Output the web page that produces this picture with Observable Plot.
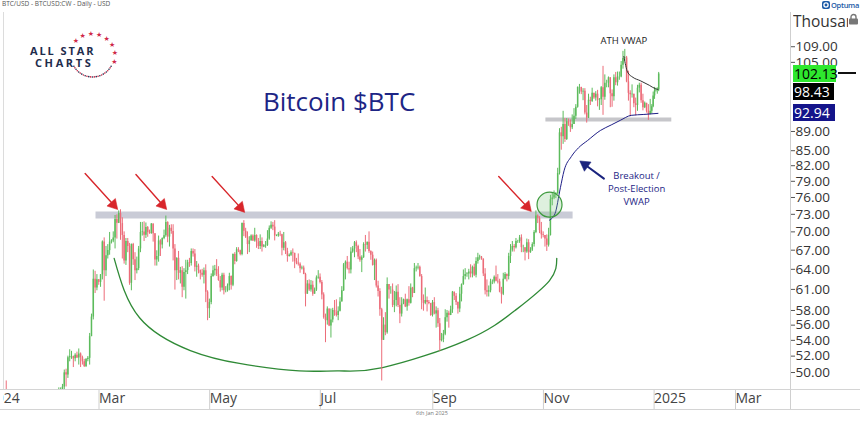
<!DOCTYPE html>
<html><head><meta charset="utf-8">
<script src="https://cdn.jsdelivr.net/npm/d3@7"></script>
<script src="https://cdn.jsdelivr.net/npm/@observablehq/plot@0.6"></script>
<style>
body{margin:0;background:#fff;font-family:"Open Sans",sans-serif}
#wrap{position:relative;width:860px;height:423px;overflow:hidden;background:#fff}
.ov{position:absolute;white-space:nowrap;line-height:1}
</style></head><body><div id="wrap"></div>
<script>
// ---------- DATA (thousands of USD, daily from 2024-01-01 to 2025-01-06) ----------
const startDate = "2024-01-01";
const firstOpen = 42.3;
const close = [
44.2,44.97,42.85,44.2,44.16,43.97,43.93,46.97,46.12,46.63,46.34,42.89,42.84,41.8,42.51,43.15,42.74,41.26,41.62,41.66,41.55,39.5,39.84,40.08,39.93,41.82,42.12,42.03,43.3,42.94,42.58,
43.08,43.2,43.0,42.58,42.66,43.08,44.32,45.3,47.15,47.77,48.29,49.96,49.7,51.8,51.94,51.96,51.66,52.12,51.78,52.26,51.84,51.3,50.73,51.57,51.73,54.48,57.09,62.5,61.2,
62.44,62.03,63.17,68.33,63.8,66.11,66.93,68.3,68.5,69.0,72.1,71.45,73.14,71.4,69.4,65.3,68.4,67.6,61.9,67.9,65.5,63.8,64.1,67.2,69.9,69.99,69.45,70.74,69.9,69.7,71.33,
69.7,65.45,65.98,68.5,67.84,68.9,69.36,71.6,69.14,70.6,70.06,67.2,63.8,65.7,63.4,63.8,61.3,63.5,63.8,64.99,64.9,66.8,66.4,64.3,64.5,63.8,63.4,63.1,63.8,60.6,
58.25,59.1,62.9,63.8,64.0,63.2,62.3,61.2,63.1,60.8,60.8,61.5,62.9,61.6,66.3,65.2,67.05,66.9,66.3,71.4,70.1,69.1,67.9,68.5,69.3,68.5,69.4,68.3,67.6,68.4,67.5,
67.7,67.75,68.8,70.6,71.1,70.8,69.3,69.3,69.6,69.5,67.3,68.2,66.8,66.0,66.2,66.6,66.5,65.2,64.96,64.8,64.1,64.2,63.2,60.3,61.8,60.9,61.6,60.3,60.9,62.7,
62.8,62.0,60.2,57.0,56.6,58.2,55.9,56.7,58.0,57.7,57.3,57.9,59.2,60.8,64.7,65.1,64.1,63.9,66.7,67.2,68.2,67.6,65.9,65.4,65.8,67.9,67.8,68.3,66.8,66.2,64.6,
65.4,61.5,60.7,58.1,54.0,56.0,55.0,61.7,60.9,60.9,58.7,59.4,60.6,58.7,57.5,58.9,59.5,58.5,59.5,59.0,61.2,60.4,64.1,64.2,64.3,62.9,59.4,59.0,59.4,59.1,58.97,
57.3,59.1,57.5,57.97,56.2,53.96,54.1,54.8,57.0,57.6,57.3,58.1,60.6,60.0,59.1,58.2,60.3,61.7,62.9,63.2,63.3,63.6,63.3,64.3,63.1,65.2,65.8,65.9,65.6,63.3,
60.8,60.6,60.8,62.1,62.1,62.8,62.2,62.1,60.6,60.3,62.5,63.2,62.9,66.0,67.0,67.6,67.4,68.4,68.4,69.0,67.4,67.4,66.7,68.2,66.6,67.0,67.9,69.9,72.7,72.3,70.2,
69.5,69.4,68.8,67.8,69.4,75.6,75.9,76.5,76.7,80.5,88.7,87.9,90.5,87.3,91.1,90.6,89.8,90.5,92.3,94.3,98.9,98.9,97.8,98.0,93.0,91.9,95.9,95.6,97.5,96.4,
97.3,95.9,96.0,98.8,96.6,99.9,99.9,101.2,97.4,96.7,101.2,100.0,101.4,101.4,104.3,106.0,106.1,100.2,97.5,97.2,97.3,95.1,94.7,98.7,99.4,95.8,94.2,95.2,93.4,92.7,93.4,
94.4,96.9,98.1,98.2,98.3,102.13];
const high = [
44.2,45.9,45.5,44.8,44.3,44.2,44.5,47.2,47.9,47.7,49.0,46.5,43.3,43.1,43.3,43.5,43.2,42.9,42.1,41.9,41.8,41.7,40.1,40.5,40.3,42.2,42.2,42.8,43.3,43.8,43.7,
43.3,43.4,43.4,43.1,43.5,43.4,44.4,45.6,48.2,48.2,48.6,50.3,50.4,52.0,52.8,52.6,52.0,52.3,52.5,52.9,52.4,52.0,51.6,51.7,51.95,54.9,57.5,63.9,63.7,
63.2,62.4,63.2,68.5,69.0,67.6,67.9,69.9,68.7,70.0,72.8,72.9,73.6,73.8,72.4,70.0,68.9,68.9,68.1,68.0,68.1,66.6,65.9,67.6,71.6,71.6,71.7,71.5,70.9,70.3,71.4,
71.3,69.7,66.9,69.3,68.7,69.0,70.3,72.7,71.7,71.1,71.2,71.2,67.9,65.8,66.8,64.3,64.4,64.1,65.4,65.4,65.7,67.2,67.2,67.1,65.2,64.8,63.9,64.0,64.2,64.7,
60.8,59.6,63.3,64.5,64.6,65.5,64.4,62.9,63.4,63.4,61.4,61.8,63.4,63.0,66.4,66.6,67.4,67.4,67.0,71.5,71.9,70.6,70.0,69.2,69.5,69.5,70.6,69.5,68.9,69.5,69.0,
67.9,68.4,70.2,71.0,71.7,71.6,71.9,69.5,69.9,70.1,69.6,69.9,68.4,67.3,66.4,66.9,67.2,66.1,65.7,66.4,65.0,64.5,64.5,63.4,62.3,62.4,62.3,62.2,61.2,63.0,
63.8,63.3,62.3,60.5,57.5,58.5,58.2,58.2,58.3,59.4,59.5,58.5,59.8,61.4,64.9,65.3,66.0,65.1,67.4,67.6,68.4,68.5,67.8,67.1,66.1,68.2,69.4,68.3,70.0,66.9,66.7,
65.6,65.6,62.2,61.1,58.3,57.0,57.7,62.7,61.7,61.4,61.8,60.7,61.5,61.7,59.8,59.8,59.6,60.3,59.6,61.4,61.8,61.3,64.9,64.5,64.9,64.5,63.2,60.2,61.2,59.9,59.4,
59.0,59.4,59.8,58.5,58.3,56.9,54.9,55.3,58.1,58.0,57.9,58.6,60.7,60.6,60.4,59.2,61.3,61.8,63.9,64.1,63.5,64.0,64.7,64.5,64.8,65.8,66.5,66.2,66.0,65.6,
64.1,62.4,61.5,62.5,62.4,63.0,64.5,63.2,62.5,61.3,63.4,63.5,63.3,66.5,67.9,68.4,67.9,68.9,68.6,69.4,69.5,67.8,67.4,68.8,68.7,67.4,68.2,70.2,73.6,72.9,72.6,
71.6,70.0,69.4,69.5,70.6,76.4,76.9,77.2,76.9,81.5,89.6,89.9,93.4,91.8,91.8,91.7,91.5,92.6,94.0,94.9,99.0,99.6,98.9,98.6,98.6,94.7,97.3,96.6,98.7,97.5,
97.9,98.2,96.3,99.1,104.0,101.9,100.6,101.4,101.2,98.3,101.9,102.5,102.6,102.6,105.2,107.8,108.3,106.5,102.8,98.1,99.5,97.3,96.4,99.4,99.9,99.9,97.3,95.5,95.2,94.9,96.1,
94.9,97.8,98.9,98.7,98.8,102.5];
const low = [
42.2,44.2,40.8,42.6,42.5,43.4,43.6,43.2,45.2,44.3,45.6,41.5,42.4,41.7,41.7,42.1,42.2,40.7,40.3,41.5,41.5,39.4,38.5,39.5,39.5,39.8,41.7,41.6,41.8,42.7,42.3,
41.9,42.6,42.9,42.5,42.3,42.6,42.8,44.3,45.3,46.8,47.6,47.7,48.3,49.3,51.3,51.6,50.6,51.3,51.7,50.9,50.6,50.9,50.6,50.6,51.3,50.9,54.5,56.7,60.4,
60.8,61.6,61.3,62.4,59.3,62.9,65.6,66.2,68.0,68.2,67.2,68.8,71.4,68.6,65.6,64.8,64.6,66.6,61.6,60.8,64.6,62.3,63.3,63.8,66.6,69.3,68.4,68.9,69.1,69.6,69.6,
68.3,64.5,64.5,65.1,66.0,67.2,68.7,69.1,68.2,67.5,69.6,65.3,60.9,62.3,62.4,61.8,59.8,60.8,59.6,63.2,64.3,64.5,65.9,63.6,62.8,63.3,62.4,62.8,61.8,59.1,
56.6,56.9,58.8,62.8,63.0,62.9,62.2,60.6,60.8,60.2,60.5,60.6,60.8,60.9,61.4,64.7,65.1,66.6,66.1,66.1,69.2,68.9,66.3,66.6,68.5,68.4,68.3,67.3,67.1,67.1,66.7,
67.4,67.3,67.6,68.6,70.4,70.2,68.5,69.2,69.1,69.2,66.1,66.9,66.3,65.1,65.9,66.0,65.1,64.1,64.7,64.5,63.4,63.9,63.2,58.5,60.3,60.7,60.6,60.0,60.4,60.7,
62.5,61.8,59.5,56.8,53.7,56.0,55.8,54.3,56.3,57.2,57.1,56.6,57.8,59.3,60.7,62.4,63.9,63.3,63.3,66.5,65.8,66.6,65.5,65.1,63.5,65.7,66.7,67.1,66.5,65.4,64.5,
62.3,61.2,59.9,57.2,49.0,54.0,54.6,54.8,59.6,60.3,58.4,57.7,58.5,58.4,56.2,57.1,58.8,58.4,57.9,58.6,58.9,59.8,60.4,63.6,63.9,62.8,58.1,57.9,58.8,57.8,58.8,
57.2,57.1,57.4,55.6,55.7,52.6,53.8,53.7,54.6,56.4,55.6,57.3,57.6,59.4,58.7,57.5,57.7,59.2,61.6,62.4,62.8,62.4,62.7,62.7,62.9,62.7,64.8,65.4,65.4,62.9,
60.2,59.9,59.9,60.5,61.7,61.8,62.1,61.8,60.5,58.9,60.1,62.4,62.1,62.4,64.9,66.7,66.7,67.2,68.1,68.1,66.6,66.6,65.3,66.5,65.5,66.5,66.8,67.5,69.7,71.4,69.7,
68.8,69.0,67.5,66.8,67.5,69.3,74.5,75.6,75.8,76.5,80.2,85.1,86.3,86.7,87.1,90.1,88.8,89.4,90.5,91.6,94.1,97.3,97.2,95.8,92.6,90.8,91.8,94.7,95.4,96.1,
95.7,94.4,93.6,94.7,92.5,95.9,98.8,98.8,94.2,94.3,95.7,99.3,99.2,100.6,101.2,103.3,105.3,100.0,95.7,92.2,96.4,94.2,92.4,93.4,97.6,95.2,93.5,94.0,93.0,91.4,92.6,
92.8,94.2,96.1,97.8,97.3,97.9];

// anchored VWAPs
const postElectionDates = ["2024-11-06","2024-11-09","2024-11-12","2024-11-14","2024-11-18","2024-11-22","2024-11-27","2024-12-04","2024-12-10","2024-12-15","2024-12-21","2024-12-28","2025-01-06"];
const postElectionVwap  = [72.0,73.1,77.8,81.0,83.8,85.6,87.1,89.2,90.4,91.4,92.5,92.7,92.94];
const athDates = ["2024-12-17","2024-12-18","2024-12-19","2024-12-22","2024-12-26","2024-12-31","2025-01-04","2025-01-06"];
const athVwap  = [106.5,104.2,102.6,101.3,100.5,99.4,98.6,98.43];

// right-axis ticks and last-value labels
const yTicks = [50,52,54,56,58,61,64,67,70,73,76,79,82,85,89,105,109];
const lastPrice = 102.13, athVwapLast = 98.43, postVwapLast = 92.94;

// x-axis ticks
const xTickDates  = ["2024-01-01","2024-03-01","2024-05-01","2024-07-01","2024-09-01","2024-11-01","2025-01-01","2025-03-01"];
const xTickLabels = ["2024","Mar","May","Jul","Sep","Nov","2025","Mar"];

// annotations (data coordinates)
const resistance = {level: 72.9, from: "2024-03-01", to: "2024-11-19"};
const support    = {level: 91.6, from: "2024-11-04", to: "2025-01-16"};
const arcDates  = ["2024-03-11","2024-03-25","2024-04-22","2024-05-19","2024-06-21","2024-07-13","2024-08-06","2024-09-21","2024-10-18","2024-11-06","2024-11-10"];
const arcPrices = [65.7,57.0,52.7,51.1,50.2,50.2,50.6,54.0,58.0,62.3,65.7];
const arrowFromDates  = ["2024-02-24","2024-03-23","2024-05-04","2024-10-09"];
const arrowFromPrices = [80.5,80.3,79.9,79.9];
const arrowToDates    = ["2024-03-12","2024-04-08","2024-05-21","2024-10-26"];
const arrowToPrices   = [74.2,74.2,73.7,73.85];
const breakout = {date: "2024-11-06", price: 74.7};
const blueArrow = {fromDate: "2024-12-06", fromPrice: 79.5, toDate: "2024-11-24", toPrice: 82.6};

// ---------- BUILD ----------
const DAY = 864e5;
const t0 = Date.parse(startDate + "T00:00:00Z");
const D = s => new Date(s + "T00:00:00Z");
const candles = close.map((c, i) => {
  const o = i === 0 ? firstOpen : close[i - 1];
  return {date: new Date(t0 + i * DAY + DAY / 2), open: o, close: c,
          high: Math.max(high[i], o, c), low: Math.min(low[i], o, c)};
});
const up = candles.filter(d => d.close >= d.open);
const down = candles.filter(d => d.close < d.open);
const GREEN = "#5cbb5c", RED = "#ec6c79";

const postLine = postElectionDates.map((d, i) => ({date: D(d), v: postElectionVwap[i]}));
const athLine = athDates.map((d, i) => ({date: D(d), v: athVwap[i]}));
const arc = arcDates.map((d, i) => ({date: D(d), v: arcPrices[i]}));
const arrows = arrowFromDates.map((d, i) => ({x1: D(d), y1: arrowFromPrices[i], x2: D(arrowToDates[i]), y2: arrowToPrices[i]}));
const xTicks = xTickDates.map(D);
const labelOf = new Map(xTicks.map((d, i) => [+d, xTickLabels[i]]));

const xAxisOpts = {tickFormat: d => labelOf.get(+d), tickSize: 20, tickPadding: -16, textAnchor: "start", fontSize: 14, stroke: "#cfcfcf", fill: "#444", label: null};

const chart = Plot.plot({
  width: 860, height: 423,
  marginLeft: 3, marginRight: 70, marginTop: 12, marginBottom: 34,
  style: {fontFamily: "'Open Sans', sans-serif", background: "transparent"},
  x: {type: "utc",
      domain: [D("2024-01-10"), D("2025-01-01"), D("2025-03-01"), D("2025-04-12")],
      range: [3, 650.6, 732, 790]},
  y: {type: "log", domain: [48.01, 118.3]},
  marks: [
    Plot.ruleY([resistance], {y: "level", x1: d => D(d.from), x2: d => D(d.to), stroke: "#c9cbd6", strokeWidth: 7}),
    Plot.ruleY([support], {y: "level", x1: d => D(d.from), x2: d => D(d.to), stroke: "#c6c6ca", strokeWidth: 4}),
    Plot.line(arc, {x: "date", y: "v", curve: "natural", stroke: "#2f8a36", strokeWidth: 1.3}),
    Plot.ruleX(up, {x: "date", y1: "low", y2: "high", stroke: GREEN, strokeWidth: 1, clip: true}),
    Plot.ruleX(down, {x: "date", y1: "low", y2: "high", stroke: RED, strokeWidth: 1, clip: true}),
    Plot.ruleX(up, {x: "date", y1: "open", y2: "close", stroke: GREEN, strokeWidth: 1.5, clip: true}),
    Plot.ruleX(down, {x: "date", y1: "open", y2: "close", stroke: RED, strokeWidth: 1.5, clip: true}),
    Plot.line(postLine, {x: "date", y: "v", curve: "monotone-x", stroke: "#1e1e86", strokeWidth: 1}),
    Plot.line(athLine, {x: "date", y: "v", curve: "monotone-x", stroke: "#333", strokeWidth: 1}),
    Plot.dot([breakout], {x: d => D(d.date), y: "price", r: 12.5, stroke: "#3d9a3d", strokeWidth: 1.2, fill: "#7cc47c", fillOpacity: 0.25}),
    Plot.arrow(arrows, {x1: "x1", y1: "y1", x2: "x2", y2: "y2", stroke: "#d8262b", strokeWidth: 1.4, headLength: 0, insetEnd: 4}),
    Plot.dot(arrows, {x: "x2", y: "y2", symbol: "triangle", r: 4.2, rotate: 138, dx: -2.6, dy: -2.8, fill: "#d8262b", stroke: "#d8262b", strokeWidth: 0.5}),
    Plot.arrow([blueArrow], {x1: d => D(d.fromDate), y1: "fromPrice", x2: d => D(d.toDate), y2: "toPrice", stroke: "#1a237e", strokeWidth: 2, headLength: 0, insetEnd: 4}),
    Plot.dot([blueArrow], {x: d => D(d.toDate), y: "toPrice", symbol: "triangle", r: 4.2, rotate: -54, dx: 2.9, dy: 2.1, fill: "#1a237e", stroke: "#1a237e", strokeWidth: 0.5}),
    Plot.text(["Bitcoin $BTC"], {x: () => D("2024-07-13"), y: () => 95.4, text: d => d, fontSize: 26, fill: "#1d2585"}),
    Plot.text(["ATH VWAP"], {x: () => D("2024-12-17"), y: () => 110.6, text: d => d, fontSize: 9.5, fill: "#222"}),
    Plot.text(["Breakout /\nPost-Election\nVWAP"], {x: () => D("2024-12-24"), y: () => 77.8, text: d => d, fontSize: 9.5, lineHeight: 1.4, fill: "#1d2585"}),
    Plot.axisY({anchor: "right", ticks: yTicks, tickFormat: d => d.toFixed(2), tickSize: 4, tickPadding: 1, fontSize: 13.5, stroke: "#555", fill: "#333", label: null}),
    Plot.axisX({...xAxisOpts, ticks: xTicks.slice(0, 1), dx: 0.6}),
    Plot.axisX({...xAxisOpts, ticks: xTicks.slice(1), dx: 3})
  ]
});
chart.style.position = "absolute"; chart.style.left = "0"; chart.style.top = "0";
const wrap = document.getElementById("wrap");

function line(l, t, w, h, c) { const e = document.createElement("div"); e.className = "ov"; Object.assign(e.style, {left: l + "px", top: t + "px", width: w + "px", height: h + "px", background: c}); wrap.appendChild(e); return e; }
line(3, 12, 1, 377, "#dcdcdc");
line(790, 12, 1, 397, "#cfcfcf");
wrap.appendChild(chart);
// the axis band clips the left edge of the first date label
line(0, 390, 3.3, 19, "#fff");
line(0, 389, 860, 1, "#d4d4d4");
line(0, 409, 860, 1, "#d4d4d4");

function html(s) { const e = document.createElement("div"); e.className = "ov"; e.innerHTML = s; wrap.appendChild(e); return e; }
const hd = html("BTC/USD - BTCUSD:CW - Daily - USD"); Object.assign(hd.style, {left: "2px", top: "1px", fontSize: "6.5px", color: "#555"});
const ft = html("6th Jan 2025"); Object.assign(ft.style, {left: "416px", top: "411px", fontSize: "5.5px", color: "#777"});
const op = html('<svg width="8" height="8" style="vertical-align:-1px"><rect x="0" y="0" width="8" height="8" rx="2" fill="#1c5aa6"/><circle cx="4" cy="4" r="2.1" fill="none" stroke="#fff" stroke-width="1.3"/></svg><span style="font-weight:600;margin-left:1px;letter-spacing:-0.3px">Optuma</span>');
Object.assign(op.style, {left: "822px", top: "1px", fontSize: "7.5px", color: "#1c5aa6"});
const th = html("Thousands"); Object.assign(th.style, {left: "793px", top: "12px", fontSize: "15.5px", color: "#333", width: "55px", overflow: "hidden", lineHeight: "18px"});
const lk = html('<svg width="11" height="12"><path d="M3 6V4a2.5 2.5 0 0 1 5 0v2" fill="none" stroke="#777" stroke-width="1.4"/><rect x="1" y="5.5" width="9" height="6" rx="1" fill="#777"/></svg>');
Object.assign(lk.style, {left: "848px", top: "11px"});

// last-value labels on the right axis (positioned through the y scale)
const ys = chart.scale("y");
function tag(v, bg, fg, w, off) {
  const y = ys.apply(v) + off;
  const e = html(v.toFixed(2));
  Object.assign(e.style, {left: "793px", top: (y - 8.5) + "px", width: w + "px", height: "17px", lineHeight: "17px", background: bg, color: fg, fontSize: "14px", paddingLeft: "1px", boxSizing: "border-box"});
  return y;
}
const yLast = tag(lastPrice, "#2ee82e", "#000", 43, 0);
tag(athVwapLast, "#000", "#fff", 41, 3);
tag(postVwapLast, "#14148a", "#fff", 42, 0);
line(838, Math.round(yLast) - 1, 18, 1.5, "#111");

// All Star Charts logo
let logo = '<svg width="130" height="90">';
logo += '<text x="30" y="55" font-family="Open Sans" font-weight="700" font-size="11" letter-spacing="1.9" fill="#1f2d4d">ALL STAR</text>';
logo += '<text x="35" y="66.5" font-family="Open Sans" font-weight="700" font-size="11" letter-spacing="2.6" fill="#1f2d4d">CHARTS</text>';
for (let k = 0; k < 8; k++) {
  const a = (-138 + k * 21.8) * Math.PI / 180, cx = 92.5 + 22.5 * Math.cos(a), cy = 55.5 + 22.5 * Math.sin(a);
  logo += `<text x="${cx}" y="${cy + 2.5}" text-anchor="middle" font-family="DejaVu Sans" font-size="7" fill="#cf2848">★</text>`;
}
for (let a = 30; a <= 150; a += 5) {
  const r = a * Math.PI / 180;
  logo += `<circle cx="${92.5 + 21.5 * Math.cos(r)}" cy="${55.5 + 21.5 * Math.sin(r)}" r="0.8" fill="${a % 10 ? '#cf2848' : '#1f2d4d'}"/>`;
}
logo += '</svg>';
const lg = html(logo); Object.assign(lg.style, {left: "0px", top: "0px"});
</script></body></html>
